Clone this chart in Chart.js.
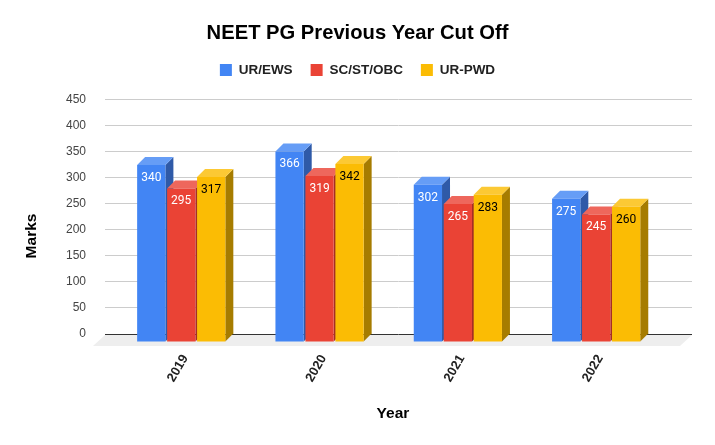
<!DOCTYPE html>
<html>
<head>
<meta charset="utf-8">
<title>NEET PG Previous Year Cut Off</title>
<script src="https://cdn.jsdelivr.net/npm/chart.js@4"></script>
<style>
  html, body { margin: 0; padding: 0; background: #fff; }
  canvas { display: block; }
</style>
</head>
<body>
<canvas id="cutoffChart" width="715" height="445"></canvas>
<script>
const years = ['2019', '2020', '2021', '2022'];
const urEws = [340, 366, 302, 275];
const scStObc = [295, 319, 265, 245];
const urPwd = [317, 342, 283, 260];
const yTicks = [0, 50, 100, 150, 200, 250, 300, 350, 400, 450];

const depth = 8;
const faces = [
  { top: '#669df6', side: '#2f5aa8', label: '#ffffff' },
  { top: '#ee675c', side: '#a52e25', label: '#ffffff' },
  { top: '#fcc934', side: '#a67c00', label: '#000000' }
];

const toPoints = values => values.map((v, i) => ({ x: i, y: v }));

// fake 3d: floor, side and top faces, labels, all hung on the bar elements
const bars3d = {
  id: 'bars3d',
  beforeInit(chart) {
    // room under the legend
    const fit = chart.legend.fit;
    chart.legend.fit = function () {
      fit.call(this);
      this.height += 13;
    };
  },
  beforeDatasetsDraw(chart) {
    const { ctx, chartArea: a } = chart;

    ctx.save();
    ctx.fillStyle = '#eeeeee';
    ctx.beginPath();
    ctx.moveTo(a.left, a.bottom + 1);
    ctx.lineTo(a.right, a.bottom + 1);
    ctx.lineTo(a.right - 12, a.bottom + 12);
    ctx.lineTo(a.left - 12, a.bottom + 12);
    ctx.closePath();
    ctx.fill();

    // front plane sits down and left of the grid plane
    ctx.translate(-depth, depth);
    chart.data.datasets.forEach((ds, i) => {
      const meta = chart.getDatasetMeta(i);
      meta.data.forEach(bar => {
        const left = bar.x - bar.width / 2;
        const right = bar.x + bar.width / 2;
        ctx.fillStyle = faces[i].side;
        ctx.beginPath();
        ctx.moveTo(right, bar.y);
        ctx.lineTo(right + depth, bar.y - depth);
        ctx.lineTo(right + depth, bar.base - depth);
        ctx.lineTo(right, bar.base);
        ctx.closePath();
        ctx.fill();
        ctx.fillStyle = faces[i].top;
        ctx.beginPath();
        ctx.moveTo(left, bar.y);
        ctx.lineTo(right, bar.y);
        ctx.lineTo(right + depth, bar.y - depth);
        ctx.lineTo(left + depth, bar.y - depth);
        ctx.closePath();
        ctx.fill();
      });
      meta.controller.draw();
      ctx.font = '12px Roboto';
      ctx.textAlign = 'center';
      ctx.textBaseline = 'middle';
      ctx.fillStyle = faces[i].label;
      meta.data.forEach((bar, j) => {
        ctx.fillText(ds.data[j].y, bar.x, bar.y + 13);
      });
    });
    ctx.restore();
    return false;
  },
  afterDraw(chart) {
    const { ctx } = chart;
    ctx.save();
    ctx.font = 'bold 15.5px "Liberation Sans"';
    ctx.fillStyle = '#000000';
    ctx.textAlign = 'center';
    ctx.textBaseline = 'middle';
    ctx.fillText('Year', 393, 414);
    ctx.translate(32, 236);
    ctx.rotate(-Math.PI / 2);
    ctx.fillText('Marks', 0, 0);
    ctx.restore();
  }
};

new Chart(document.getElementById('cutoffChart'), {
  type: 'bar',
  data: {
    datasets: [
      { label: 'UR/EWS', data: toPoints(urEws), backgroundColor: '#4285f4' },
      { label: 'SC/ST/OBC', data: toPoints(scStObc), backgroundColor: '#ea4335' },
      { label: 'UR-PWD', data: toPoints(urPwd), backgroundColor: '#fbbc04' }
    ]
  },
  options: {
    responsive: false,
    animation: false,
    categoryPercentage: 0.65,
    barPercentage: 0.943,
    plugins: {
      tooltip: { enabled: false },
      title: {
        display: true,
        text: 'NEET PG Previous Year Cut Off',
        color: '#000000',
        font: { family: '"Liberation Sans"', size: 20.2, weight: 'bold', lineHeight: 1.15 },
        padding: { top: 22, bottom: 0 }
      },
      legend: {
        position: 'top',
        labels: {
          color: '#222222',
          font: { family: '"Liberation Sans"', size: 13.5, weight: 'bold' },
          boxWidth: 12,
          boxHeight: 12,
          padding: 18
        }
      }
    },
    scales: {
      x: {
        type: 'linear',
        offset: false,
        min: -0.609,
        max: 3.635,
        grid: { display: false },
        border: { display: false },
        afterBuildTicks(scale) {
          scale.ticks = years.map((y, i) => ({ value: i }));
        },
        afterFit(scale) { scale.height = 111; },
        ticks: {
          callback: v => years[v],
          color: '#222222',
          font: { family: '"Liberation Sans"', size: 13, weight: 'bold' },
          minRotation: 60,
          maxRotation: 60,
          autoSkip: false,
          labelOffset: -4,
          padding: 10
        }
      },
      y: {
        min: 0,
        max: 450,
        afterBuildTicks(scale) {
          scale.ticks = yTicks.map(v => ({ value: v }));
        },
        afterFit(scale) { scale.width = 105; },
        grid: {
          color: ctx => (ctx.tick.value === 0 ? '#333333' : '#cccccc'),
          drawTicks: false
        },
        border: { display: false },
        ticks: {
          color: '#444444',
          font: { family: '"Liberation Sans"', size: 12 },
          padding: 19
        }
      },
      // empty axis, only keeps the plot off the right edge without moving the title
      gutter: {
        type: 'linear',
        position: 'right',
        grid: { display: false },
        border: { display: false },
        ticks: { display: false },
        afterFit(scale) { scale.width = 23; }
      }
    }
  },
  plugins: [bars3d]
});
</script>
</body>
</html>
